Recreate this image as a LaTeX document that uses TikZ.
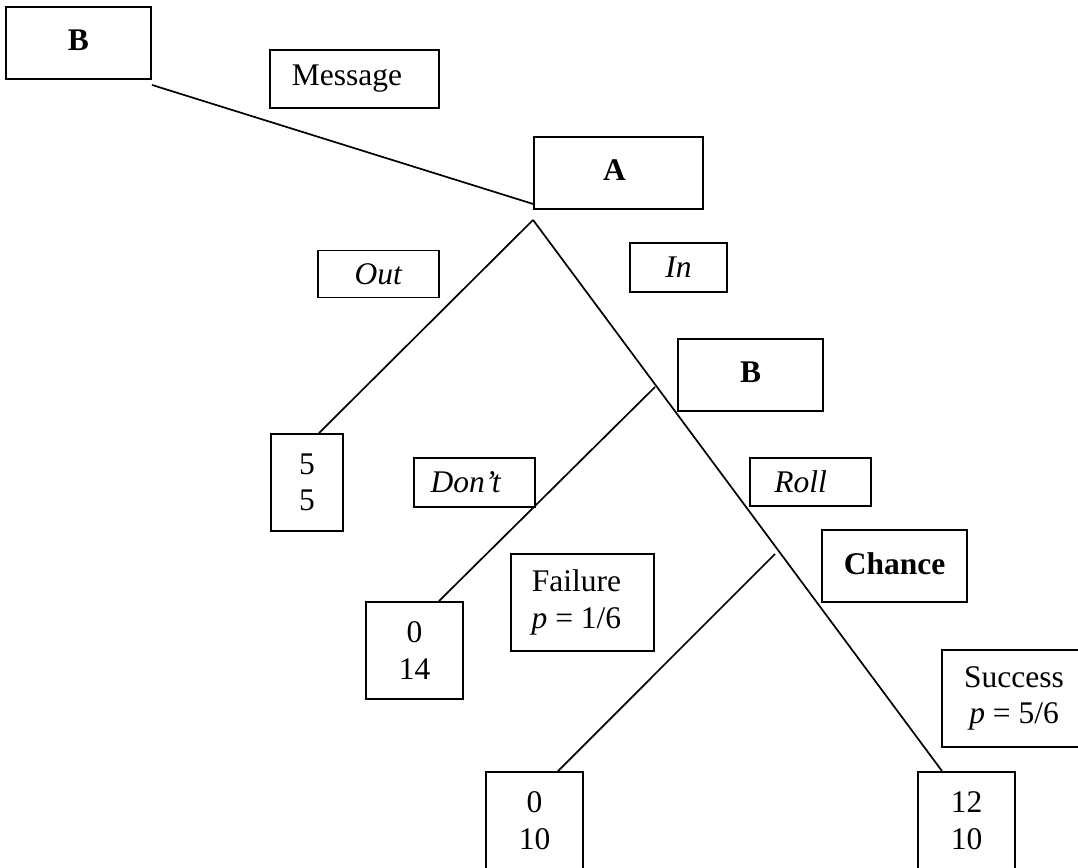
\documentclass[tikz,border=0pt]{standalone}
\usepackage{fontspec}
\setmainfont{Liberation Serif}
\begin{document}
\begin{tikzpicture}[x=1pt,y=-1pt,
  box/.style={draw, line width=1.9pt, inner sep=0pt, align=center,
    font=\fontsize{31.5}{36.5}\selectfont},
  branch/.style={line width=1.7pt}]
\clip (0,0) rectangle (1078,867);
% boxes
\node[box, minimum width=145pt, minimum height=72pt] (B1) at (78.5,43) {\raisebox{5pt}{\textbf{B}}};
\node[box, minimum width=169pt, minimum height=58pt] (Msg) at (354.5,79) {Message\rule{15pt}{0pt}};
\node[box, minimum width=169pt, minimum height=72pt] (A) at (618.5,173) {\raisebox{5pt}{\textbf{A}}\rule{8pt}{0pt}};
\node[box, minimum width=121pt, minimum height=47pt] (Out) at (378.5,274) {\textit{Out}};
\node[box, minimum width=97pt, minimum height=49pt] (In) at (678.5,267.5) {\raisebox{-4pt}{\textit{In}}};
\node[box, minimum width=72pt, minimum height=97pt] (P55) at (307,482.5) {5\\5};
\node[box, minimum width=145pt, minimum height=72pt] (B2) at (750.5,375) {\raisebox{5pt}{\textbf{B}}};
\node[box, minimum width=121pt, minimum height=49pt] (Dont) at (474.5,482.5) {\raisebox{-3pt}{\textit{Don't}}\rule{17pt}{0pt}};
\node[box, minimum width=121pt, minimum height=48pt] (Roll) at (810.5,482) {\raisebox{-3pt}{\textit{Roll}}\rule{20pt}{0pt}};
\node[box, minimum width=97pt, minimum height=97pt] (P014) at (414.5,650.5) {0\\14};
\node[box, minimum width=143pt, minimum height=97pt] (Fail) at (582.5,602.5) {Failure\rule{12pt}{0pt}\\\textit{p} = 1/6\rule{12pt}{0pt}};
\node[box, minimum width=145pt, minimum height=72pt] (Chance) at (894.5,566) {\raisebox{4pt}{\textbf{Chance}}};
\node[box, minimum width=144pt, minimum height=97pt] (Succ) at (1014,698.5) {Success\\\textit{p} = 5/6};
\node[box, minimum width=97pt, minimum height=97pt] (P010) at (534.5,820.5) {0\\10};
\node[box, minimum width=97pt, minimum height=97pt] (P1210) at (966.5,820.5) {12\\10};
% connectors
\coordinate (apex) at ([yshift=-10pt]A.south west);
\coordinate (b2) at (655,387);
\coordinate (ch) at (775,554);
\draw[branch] ([yshift=-5pt]B1.south east) -- ([yshift=6pt]A.south west);
\draw[branch] (apex) -- ([xshift=12pt]P55.north);
\draw[branch] (apex) -- ([xshift=-24.5pt]P1210.north);
\draw[branch] (b2) -- ([xshift=24.5pt]P014.north);
\draw[branch] (ch) -- ([xshift=23.5pt]P010.north);
\end{tikzpicture}
\end{document}
